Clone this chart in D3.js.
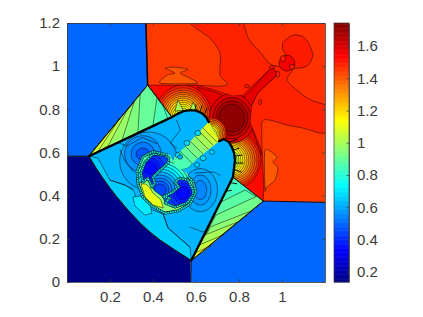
<!DOCTYPE html>
<html><head><meta charset="utf-8">
<script src="https://cdn.jsdelivr.net/npm/d3@7"></script>
<style>html,body{margin:0;background:#fff}svg{display:block}text{font-family:"Liberation Sans",Arial,sans-serif;font-size:15px;fill:#3a3a3a}</style>
</head><body><svg id="c" width="423" height="317"></svg>
<script>
// --- axis data
const xTicks=[0.2,0.4,0.6,0.8,1];
const yTicks=[0,0.2,0.4,0.6,0.8,1,1.2];
const cTicks=[0.2,0.4,0.6,0.8,1,1.2,1.4,1.6];
const cRange=[0.136,1.743];
// --- density plateaus: [value], [outline in (x,y)]
const rightValue=1.49;
const rightShape=[[.367,1.2],[1.2,1.2],[1.2,.369],[.913,.375],[.773,.485],[.487,.765],[.375,.912]];
const baseValues=[0.5,0.138,0.5];
const baseShapes=[
[[0,1.2],[.367,1.2],[.375,.912],[.102,.583],[0,.583]],
[[0,.583],[.102,.583],[.135,.528],[.167,.481],[.2,.435],[.231,.395],[.284,.333],[.34,.273],[.386,.231],[.433,.194],[.502,.148],[.575,.102],[.575,0],[0,0]],
[[.575,.102],[.575,0],[1.2,0],[1.2,.369],[.913,.375]]];
const upperValues=[1.45,1.41,1.465,1.5,1.45,1.4];
const upperShapes=[
[[.3,1.3],[.572,1.3],[.572,1.2],[.665,1.13],[.712,1.06],[.712,.958],[.749,.917],[.702,.907],[.605,.912],[.377,.905],[.3,.9]],
[[.433,.921],[.465,.958],[.502,.968],[.456,.991],[.502,.995],[.563,.986],[.526,.968],[.563,.949],[.605,.921]],
[[.837,1.3],[1.3,1.3],[1.3,.833],[1.163,.833],[1.098,.866],[1.023,.935],[1.051,.991],[.953,1.005],[.898,1.065],[.837,1.144]],
[[1.051,1.144],[1.005,1.111],[1.005,1.074],[1.028,1.037],[1.051,.991],[1.116,1],[1.144,1.051],[1.121,1.111],[1.093,1.139]],
[[.907,.741],[.944,.75],[1.023,.727],[1.098,.713],[1.177,.69],[1.3,.665],[1.3,.3],[.9,.3],[.907,.602]],
[[.921,.611],[.977,.579],[.958,.556],[.981,.528],[.967,.472],[.93,.44],[.921,.426]]];
const wedgeValue=1.53;
const wedgeShape=[[.377,.912],[.605,.912],[.688,.889],[.772,.861],[.819,.866],[.953,.995],[.981,.963],[.884,.875],[.86,.82],[.851,.741],[.907,.602],[.916,.44],[.912,.375],[.772,.486],[.488,.764]];
const stemValue=1.58;
const stemShape=[[.605,.903],[.688,.88],[.772,.847],[.828,.861],[.953,.995],[.981,.963],[.888,.875],[.851,.806],[.851,.741],[.888,.634],[.907,.588],[.805,.681],[.735,.704],[.665,.796]];
// --- nested level sets: [cx,cy,rx,ry,value]
const headOne=[[.54,.759,.135,.153,1.5],[.54,.759,.126,.141,1.46],[.54,.759,.116,.13,1.42],[.54,.759,.107,.12,1.38],[.54,.759,.098,.111,1.34],[.54,.759,.088,.102,1.3],[.54,.759,.079,.093,1.26],[.54,.759,.07,.083,1.22],[.54,.759,.06,.074,1.18],[.54,.759,.051,.065,1.14],[.54,.759,.042,.056,1.1],[.54,.759,.033,.046,1.05]];
const headTwo=[[.758,.565,.144,.139,1.5],[.758,.565,.135,.13,1.46],[.758,.565,.126,.12,1.42],[.758,.565,.116,.111,1.38],[.758,.565,.107,.102,1.34],[.758,.565,.098,.093,1.3],[.758,.565,.088,.086,1.26],[.758,.565,.079,.079,1.22],[.758,.565,.07,.072,1.18],[.758,.565,.06,.065,1.14],[.758,.565,.051,.056,1.1],[.758,.565,.042,.046,1.05],[.758,.565,.033,.037,1]];
const coreRings=[[.767,.759,.105,.115,1.6],[.767,.759,.088,.095,1.64],[.767,.759,.074,.08,1.68],[.767,.759,.06,.065,1.72]];
const gapRings=[[.67,.69,.07,.07,1.45],[.67,.69,.062,.062,1.38],[.67,.69,.054,.054,1.32],[.67,.69,.047,.047,1.26],[.67,.69,.04,.04,1.2],[.67,.69,.033,.033,1.14],[.67,.69,.025,.025,1.08],[.67,.69,.017,.017,1]];
const jetTip=[[1.023,1.014,.037,.037,1.56],[1.005,1.035,.012,.014,1.5],[1.046,.997,.012,.012,1.5],[.953,.995,.012,.007,1.5],[.981,.963,.009,.014,1.5],[.837,.907,.012,.007,1.5],[.898,.833,.007,.012,1.5]];
// --- oblique-shock triangles
const upTriValues=[.84,.86,.9,.94,.98,1.02,1.07];
const upTriShapes=[
[[.375,.912],[.102,.583],[.488,.764]],
[[.102,.583],[.375,.912],[.447,.815],[.47,.755]],
[[.102,.583],[.375,.912],[.419,.856],[.4,.727]],
[[.102,.583],[.34,.87],[.33,.694]],
[[.102,.583],[.312,.833],[.256,.657]],
[[.102,.583],[.284,.804],[.191,.63]],
[[.102,.583],[.247,.76],[.144,.606]]];
const loTriValues=[.84,.88,.92,.96,1,1.05,1.1];
const loTriShapes=[
[[.913,.375],[.578,.1],[.773,.485]],
[[.578,.1],[.913,.375],[.828,.426],[.715,.37]],
[[.578,.1],[.913,.375],[.884,.398],[.693,.31]],
[[.578,.1],[.859,.33],[.668,.256]],
[[.578,.1],[.794,.278],[.642,.218]],
[[.578,.1],[.726,.218],[.614,.171]],
[[.578,.1],[.67,.169],[.595,.134]]];
// --- central region
const mainValue=.62;
const mainShape=[[.102,.583],[.488,.764],[.516,.78],[.544,.792],[.572,.796],[.6,.794],[.628,.782],[.647,.764],[.66,.741],[.707,.653],[.73,.662],[.753,.648],[.767,.625],[.777,.597],[.781,.565],[.777,.528],[.772,.486],[.578,.1],[.502,.148],[.433,.194],[.386,.231],[.34,.273],[.284,.333],[.231,.395],[.2,.435],[.167,.481],[.135,.528]];
const bandValues=[.66,.71];
const bandShapes=[
[[.102,.583],[.144,.574],[.2,.472],[.27,.449],[.307,.426],[.34,.356],[.447,.315],[.47,.25],[.572,.162],[.578,.1],[.502,.148],[.433,.194],[.386,.231],[.34,.273],[.284,.333],[.231,.395],[.2,.435],[.167,.481],[.135,.528]],
[[.307,.394],[.34,.398],[.386,.366],[.395,.319],[.363,.31],[.316,.352]]];
const haloRings=[[.38,.56,.135,.135,.6],[.353,.593,.085,.085,.57],[.353,.593,.055,.055,.53],[.353,.593,.032,.028,.47],[.62,.426,.08,.1,.6],[.62,.426,.05,.07,.58],[.62,.426,.03,.045,.55]];
const stripValues=[.86,.89,.93,.97,1,1.04,1.09];
const stripShapes=[
[[.66,.741],[.707,.653],[.609,.574],[.563,.528],[.516,.514],[.488,.551],[.498,.583],[.549,.625]],
[[.516,.616],[.66,.76],[.72,.66],[.6,.532]],
[[.54,.639],[.66,.76],[.72,.66],[.623,.556]],
[[.563,.662],[.66,.76],[.72,.66],[.647,.579]],
[[.586,.685],[.66,.76],[.72,.66],[.67,.602]],
[[.609,.704],[.66,.76],[.72,.66],[.688,.625]],
[[.633,.713],[.66,.76],[.72,.66],[.702,.644]]];
const vortices=[[.609,.69,.014,.012,.68],[.558,.644,.014,.012,.68],[.516,.588,.012,.012,.68],[.633,.574,.014,.012,.68],[.674,.602,.012,.01,.68],[.605,.542,.012,.01,.68],[.526,.579,.012,.01,.62]];
// --- bubble
const bubbleValue=.88;
const bubbleShape=[[.4,.602],[.353,.579],[.326,.514],[.33,.454],[.353,.394],[.395,.352],[.456,.319],[.516,.329],[.572,.361],[.6,.417],[.586,.468],[.553,.509],[.502,.542],[.479,.588]];
const crescentValues=[.96,1.1];
const crescentShapes=[
[[.335,.458],[.353,.394],[.395,.352],[.456,.324],[.516,.333],[.563,.361],[.502,.347],[.456,.366],[.447,.394],[.409,.421],[.395,.44],[.377,.481],[.353,.463]],
[[.344,.454],[.363,.394],[.4,.356],[.447,.343],[.437,.38],[.4,.412],[.386,.435],[.367,.454]]];
const bubbleRings=[[.433,.426,.14,.14,.82],[.433,.426,.126,.126,.76],[.433,.426,.112,.112,.71],[.433,.426,.098,.098,.66],[.433,.426,.084,.084,.61],[.433,.426,.07,.07,.57],[.433,.426,.056,.056,.53],[.433,.426,.042,.042,.49],[.433,.426,.028,.028,.45]];
const lobeValue=.44;
const lobeShapes=[
[[.456,.588],[.4,.593],[.363,.556],[.344,.505],[.353,.463],[.377,.481],[.395,.44],[.409,.458],[.4,.486],[.433,.519],[.47,.551],[.474,.574]],
[[.586,.426],[.563,.472],[.526,.481],[.502,.463],[.521,.44],[.493,.417],[.447,.394],[.479,.389],[.456,.366],[.502,.347],[.558,.366],[.586,.403]]];
const lobeRings=[[.386,.528,.065,.065,.41],[.386,.528,.047,.047,.38],[.386,.528,.03,.03,.35],[.54,.412,.065,.065,.41],[.54,.412,.047,.047,.38],[.54,.412,.03,.03,.35]];
const ringPath=[[.47,.588],[.4,.604],[.353,.581],[.326,.514],[.33,.454],[.353,.394],[.395,.352],[.456,.319],[.516,.329],[.572,.361],[.6,.417],[.586,.468],[.56,.49]];
// --- small flame tips on the shock
const spikeValue=1;
const spikeShapes=[[[.502,.792],[.516,.843],[.54,.796]],[[.572,.796],[.586,.833],[.605,.796]]];
const tickMarks=[[[.772,.61],[.8,.62]],[[.777,.583],[.814,.588]],[[.781,.551],[.819,.551]],[[.781,.52],[.81,.51]],[[.753,.648],[.79,.66]],[[.642,.782],[.651,.806]],[[.619,.792],[.628,.815]],[[.595,.796],[.6,.82]],[[.763,.46],[.79,.455]],[[.74,.42],[.765,.425]]];
// --- isolated contour lines
const contourLines=[
[[.247,.611],[.27,.56],[.31,.51]],
[[.2,.472],[.27,.449],[.307,.43]],
[[.447,.315],[.47,.25],[.572,.162]],
[[.572,.255],[.63,.232],[.72,.25]],
[[.595,.505],[.68,.51],[.712,.495]],
[[.51,.75],[.527,.704],[.48,.644],[.51,.62]],
[[.2,.66],[.28,.63],[.35,.67],[.42,.64]]];
// --- shock fronts: strong and weak
const strongFronts=[
[[.102,.583],[.488,.764],[.516,.78],[.544,.792],[.572,.796],[.6,.794],[.628,.782],[.647,.764],[.66,.741]],
[[.707,.653],[.73,.662],[.753,.648],[.767,.625],[.777,.597],[.781,.565],[.777,.528],[.772,.486],[.578,.1]]];
const mediumFronts=[[[.367,1.2],[.375,.912]]];
const weakFronts=[
[[0,.583],[.102,.583],[.135,.528],[.167,.481],[.2,.435],[.231,.395],[.284,.333],[.34,.273],[.386,.231],[.433,.194],[.502,.148],[.578,.1]],
[[.375,.912],[.102,.583]],[[.375,.912],[.488,.764]],
[[.578,.1],[.575,0]],[[.578,.1],[.913,.375],[.772,.486]],[[.913,.375],[1.2,.369]]];

const margin={l:67,t:23,r:325,b:282};
const x=d3.scaleLinear().domain([0,1.2]).range([margin.l,margin.r]);
const y=d3.scaleLinear().domain([0,1.2]).range([margin.b,margin.t]);
const jet=d3.scaleLinear().domain([0,.125,.375,.625,.875,1]).range(["#000084","#0000ff","#00ffff","#ffff00","#ff0000","#800000"]);
const norm=d3.scaleLinear().domain(cRange).range([0,1]);
const color=v=>jet(norm(v));
const line=d3.line().x(d=>x(d[0])).y(d=>y(d[1]));
const closed=s=>line(s)+"Z";
const smooth=d3.line().x(d=>x(d[0])).y(d=>y(d[1])).curve(d3.curveCardinalClosed.tension(.35));
const svg=d3.select("#c");
const defs=svg.append("defs");
function clip(id,shapes){const c=defs.append("clipPath").attr("id",id);shapes.forEach(s=>c.append("path").attr("d",closed(s)));return `url(#${id})`;}
clip("plotClip",[[[0,0],[1.2,0],[1.2,1.2],[0,1.2]]]);
const field=svg.append("g").attr("clip-path","url(#plotClip)").style("filter","blur(.4px)");
const LW=.5,LC="#140000";
function zones(g,shapes,vals,stroke=true,gen=closed){g.selectAll(null).data(shapes).join("path").attr("d",gen).attr("fill",(d,i)=>color(vals[i])).attr("stroke",stroke?LC:"none").attr("stroke-width",LW);}
function rings(g,rows,w=LW){g.selectAll(null).data(rows).join("ellipse").attr("cx",d=>x(d[0])).attr("cy",d=>y(d[1])).attr("rx",d=>x(d[2])-x(0)).attr("ry",d=>y(0)-y(d[3])).attr("fill",d=>color(d[4])).attr("stroke",LC).attr("stroke-width",w);}
function lines(g,ls,w,c){g.selectAll(null).data(ls).join("path").attr("d",line).attr("fill","none").attr("stroke",c).attr("stroke-width",w).attr("stroke-linecap","round").attr("stroke-linejoin","round");}
zones(field.append("g"),[rightShape],[rightValue],false);
zones(field.append("g"),upperShapes,upperValues,true,smooth);
zones(field.append("g"),baseShapes,baseValues,false);
zones(field.append("g"),[wedgeShape],[wedgeValue]);
zones(field.append("g"),[stemShape],[stemValue]);
const wedgeClip=clip("wedgeClip",[wedgeShape]);
const wg=field.append("g").attr("clip-path",wedgeClip);
rings(wg,headOne);rings(wg,headTwo);rings(wg,coreRings);rings(wg,gapRings);
rings(field.append("g"),jetTip);
zones(field.append("g"),spikeShapes,spikeShapes.map(()=>spikeValue));
zones(field.append("g"),upTriShapes,upTriValues);
zones(field.append("g"),loTriShapes,loTriValues);
zones(field.append("g"),[mainShape],[mainValue],false);
const mainClip=clip("mainClip",[mainShape]);
const mg=field.append("g").attr("clip-path",mainClip);
zones(mg.append("g"),bandShapes,bandValues);
rings(mg.append("g"),haloRings);
lines(mg.append("g"),contourLines,LW,LC);
const sg=mg.append("g").attr("clip-path",clip("stripClip",[stripShapes[0]]));
zones(sg,stripShapes,stripValues);
rings(mg.append("g"),vortices);
zones(field.append("g"),[bubbleShape],[bubbleValue],false);
const bg=field.append("g").attr("clip-path",clip("bubbleClip",[bubbleShape]));
rings(bg.append("g"),bubbleRings);
zones(bg.append("g"),crescentShapes,crescentValues);
zones(field.append("g"),lobeShapes,lobeShapes.map(()=>lobeValue),false);
rings(field.append("g").attr("clip-path",clip("lobeClip",lobeShapes)),lobeRings,.35);
// speckled vortex sheets
const sheet=field.append("g");
[...lobeShapes.map(s=>[...s,s[0]]),ringPath].forEach(s=>{
 sheet.append("path").attr("d",line(s)).attr("fill","none").attr("stroke","#08202a").attr("stroke-width",2.8).attr("stroke-linejoin","round");
 sheet.append("path").attr("d",line(s)).attr("fill","none").attr("stroke",color(.78)).attr("stroke-width",1.5).attr("stroke-linejoin","round");
 sheet.append("path").attr("d",line(s)).attr("fill","none").attr("stroke","#06121c").attr("stroke-width",1).attr("stroke-dasharray","1 1.4");
});
lines(field.append("g"),tickMarks,1,"#111");
lines(field.append("g"),weakFronts,1,"#1a0d00");
lines(field.append("g"),mediumFronts,1.6,"#150500");
lines(field.append("g"),strongFronts,2.3,"#000");
// axes
const tickCol="#3a3a3a";
function styleAxis(g){g.selectAll("path.domain").attr("stroke",tickCol).attr("stroke-width",.8);g.selectAll("line").attr("stroke",tickCol).attr("stroke-width",.7);g.selectAll("text").attr("fill",tickCol).style("font-size","15px");}
const fmt=d3.format("~g");
svg.append("g").attr("transform",`translate(0,${margin.b})`).call(d3.axisBottom(x).tickValues(xTicks).tickFormat(fmt).tickSizeInner(-3).tickSizeOuter(0).tickPadding(9)).call(styleAxis);
svg.append("g").attr("transform",`translate(0,${margin.t})`).call(d3.axisTop(x).tickValues(xTicks).tickFormat("").tickSizeInner(-3).tickSizeOuter(0)).call(styleAxis);
svg.append("g").attr("transform",`translate(${margin.l},0)`).call(d3.axisLeft(y).tickValues(yTicks).tickFormat(fmt).tickSizeInner(-3).tickSizeOuter(0).tickPadding(7)).call(styleAxis);
svg.append("g").attr("transform",`translate(${margin.r},0)`).call(d3.axisRight(y).tickValues(yTicks).tickFormat("").tickSizeInner(-3).tickSizeOuter(0)).call(styleAxis);
// colour bar
const cb={l:334,r:349};
const cy=d3.scaleLinear().domain(cRange).range([margin.b,margin.t]);
const cbStep=(cRange[1]-cRange[0])/200;
const cbSteps=d3.range(0,200).map(i=>cRange[0]+cbStep*i);
svg.append("g").selectAll("rect").data(cbSteps).join("rect").attr("x",cb.l).attr("width",cb.r-cb.l).attr("y",d=>cy(d+cbStep)).attr("height",d=>cy(d)-cy(d+cbStep)+.5).attr("fill",d=>color(d+cbStep/2));
svg.append("g").attr("transform",`translate(${cb.r},0)`).call(d3.axisRight(cy).tickValues(cTicks).tickFormat(fmt).tickSizeInner(-2.5).tickSizeOuter(0).tickPadding(8)).call(styleAxis);
svg.append("rect").attr("x",cb.l).attr("y",margin.t).attr("width",cb.r-cb.l).attr("height",margin.b-margin.t).attr("fill","none").attr("stroke",tickCol).attr("stroke-width",.7);
</script></body></html>
